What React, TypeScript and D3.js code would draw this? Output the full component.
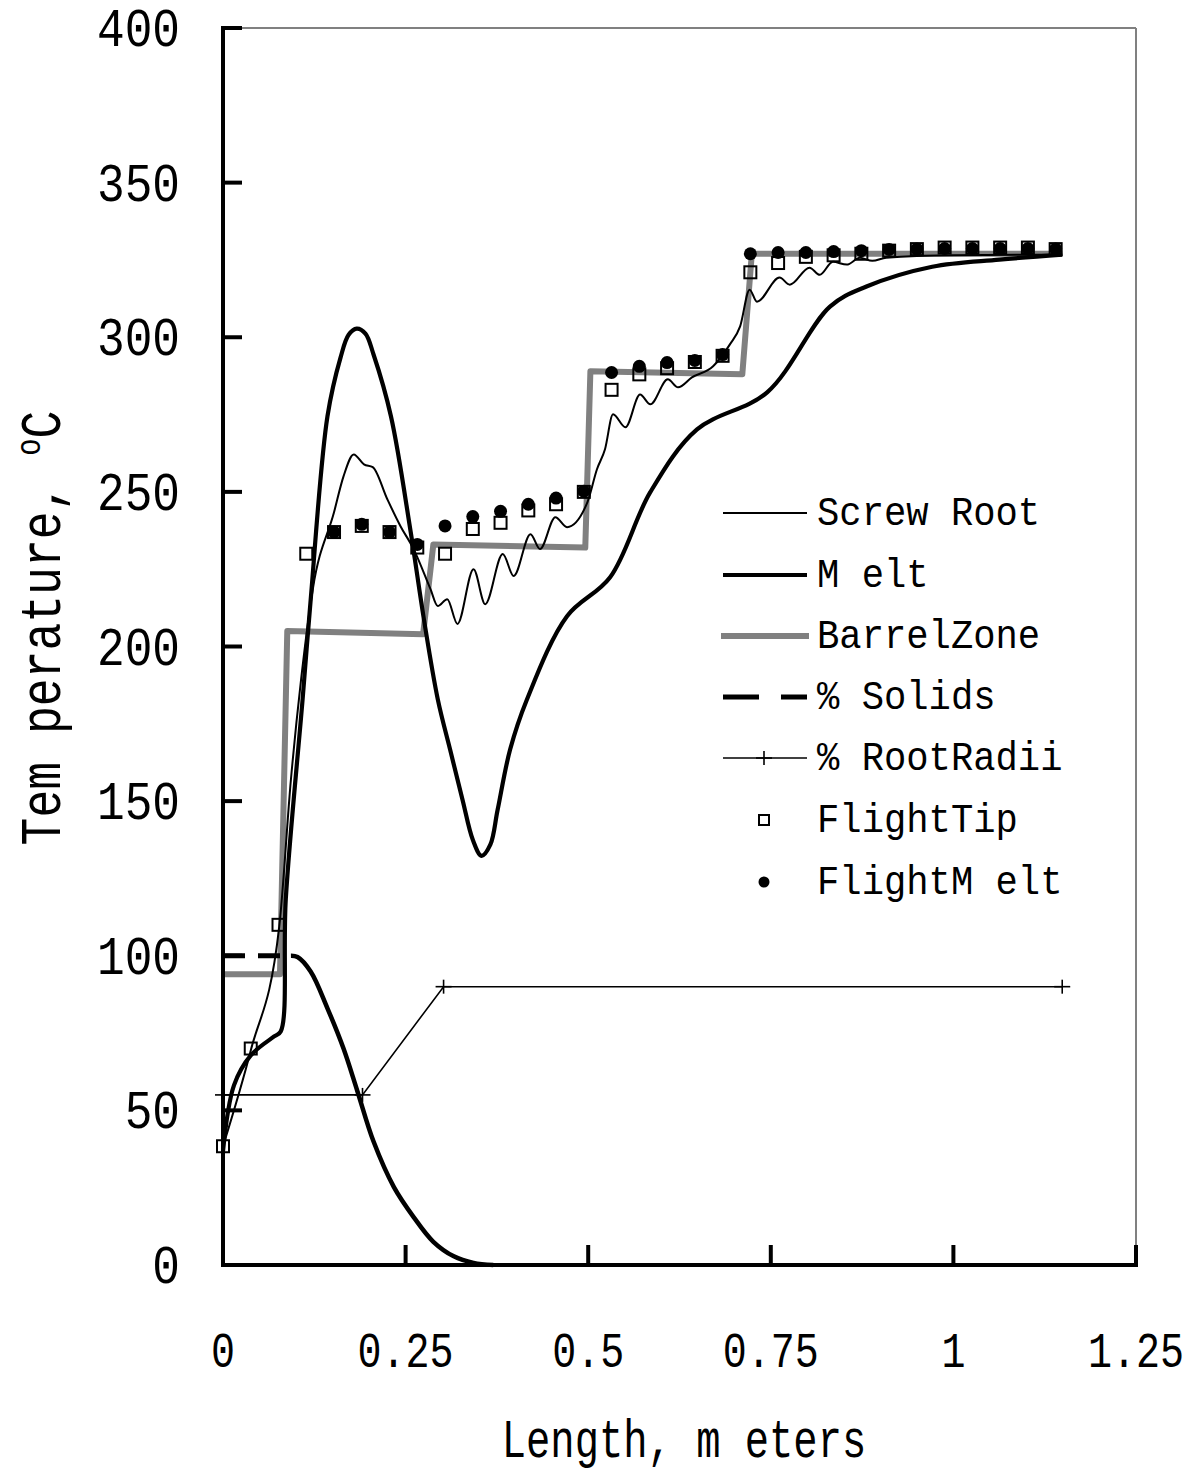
import React from "react";
import * as d3 from "d3";

type P = [number, number];

const X_TICKS = [0, 0.25, 0.5, 0.75, 1, 1.25];
const X_TICK_LABELS = ["0", "0.25", "0.5", "0.75", "1", "1.25"];
const Y_TICKS = [0, 50, 100, 150, 200, 250, 300, 350, 400];

const screwRoot: P[] = [
  [0, 38.4], [0.038, 69.4], [0.077, 109.4], [0.093, 157], [0.107, 189.5], [0.123, 218.6],
  [0.152, 243.4], [0.165, 255], [0.179, 262.1], [0.193, 258.9], [0.205, 258], [0.225, 247.6],
  [0.243, 238.9], [0.261, 231.5], [0.284, 218.6], [0.294, 213.1], [0.307, 215.3], [0.321, 207.3],
  [0.343, 225], [0.359, 213.7], [0.383, 229.9], [0.398, 222.8], [0.421, 236.3], [0.434, 231.5],
  [0.455, 241.8], [0.471, 238.6], [0.499, 246.7], [0.512, 257.3], [0.523, 263.8], [0.534, 275.1],
  [0.551, 270.9], [0.571, 281.5], [0.585, 278.3], [0.609, 286.4], [0.623, 283.8], [0.642, 287],
  [0.671, 290.6], [0.694, 297.7], [0.708, 303.5], [0.721, 315.4], [0.731, 311.5], [0.762, 319.3],
  [0.776, 317], [0.803, 322.5], [0.817, 320.2], [0.835, 324.4], [0.854, 323.5], [0.872, 325.7],
  [0.889, 324.7], [0.908, 325.7], [1.0, 326.5], [1.149, 326.7],
];

const melt: P[] = [
  [0, 36.8], [0.015, 58.1], [0.038, 67.8], [0.07, 73.9], [0.079, 75.5], [0.086, 118.5],
  [0.109, 183], [0.12, 215], [0.143, 274.4], [0.161, 293.5], [0.172, 300.8], [0.183, 302.8],
  [0.195, 301.2], [0.206, 294.5], [0.23, 274.4], [0.257, 237], [0.275, 208.9], [0.294, 183],
  [0.311, 166.6], [0.328, 150.4], [0.342, 137.5], [0.354, 132.3], [0.366, 135.9], [0.376, 147.2],
  [0.393, 166.6], [0.416, 182.8], [0.471, 209.8], [0.53, 222.4], [0.585, 249.9], [0.649, 270.2],
  [0.745, 282.2], [0.831, 309.9], [0.881, 316.4], [0.971, 322.8], [1.063, 325.1], [1.149, 326.7],
];

const barrelZone: P[] = [
  [0, 94], [0.078, 94], [0.088, 205], [0.274, 204], [0.288, 233], [0.496, 232],
  [0.503, 289], [0.711, 288], [0.724, 327], [1.149, 327],
];

const solids: P[] = [
  [0, 100], [0.093, 100], [0.102, 99.6], [0.12, 94.9], [0.143, 83], [0.165, 70],
  [0.184, 56.2], [0.206, 40], [0.234, 25.2], [0.261, 15.5], [0.288, 7.5], [0.316, 2.8],
  [0.343, 0.7], [0.37, 0],
];

const rootRadii: P[] = [[0, 55], [0.191, 55], [0.302, 90], [1.149, 90]];

const flightX = [
  0, 0.038, 0.076, 0.114, 0.152, 0.19, 0.228, 0.266, 0.304, 0.342, 0.38, 0.418, 0.456, 0.494,
  0.532, 0.57, 0.608, 0.646, 0.684, 0.722, 0.76, 0.798, 0.836, 0.874, 0.912, 0.95, 0.988,
  1.026, 1.064, 1.102, 1.14,
];
const flightTip = [
  38.4, 70, 110, 230, 237, 239, 237, 232, 230, 238, 240, 244, 246, 250,
  283, 288, 290, 292, 294, 321, 324, 326, 326.5, 327, 328, 328.5, 329,
  329, 329, 329, 328.5,
];
const flightMelt: (number | null)[] = [
  null, null, null, null, 237, 239.5, 237, 233, 239, 242, 243.7, 246, 248, 250.2,
  288.6, 290.6, 291.8, 292.5, 294.4, 327, 327.4, 327.4, 327.7, 328, 328.4, 328.5, 328.7,
  328.7, 328.7, 328.7, 328.5,
];

const legendLabels = [
  "Screw Root", "M elt", "BarrelZone", "%  Solids", "%  RootRadii", "FlightTip", "FlightM elt",
];

const FONT = "'Liberation Mono', 'Courier New', monospace";
const GRAY = "#808080";

export default function App() {
  const x = d3.scaleLinear().domain([0, 1.25]).range([223, 1136]);
  const y = d3.scaleLinear().domain([0, 400]).range([1265, 28]);

  const lin = d3.line<P>().x((d) => x(d[0])).y((d) => y(d[1]));
  const smooth = d3.line<P>().x((d) => x(d[0])).y((d) => y(d[1])).curve(d3.curveMonotoneX);
  const round = d3.line<P>().x((d) => x(d[0])).y((d) => y(d[1])).curve(d3.curveCatmullRom.alpha(0.5));

  const legendY = [513, 575, 636, 697, 758, 820, 882];
  const lx0 = 723, lx1 = 807, lsym = 764, ltext = 817;

  const plus = (cx: number, cy: number, k: string) => (
    <g key={k} stroke="#000" strokeWidth={1.6}>
      <line x1={cx - 8} x2={cx + 8} y1={cy} y2={cy} />
      <line x1={cx} x2={cx} y1={cy - 7} y2={cy + 7} />
    </g>
  );

  return (
    <svg
      width={1193}
      height={1473}
      style={{ position: "absolute", left: 0, top: 0, background: "#fff" }}
      fontFamily={FONT}
    >
      <rect x={0} y={0} width={1193} height={1473} fill="#fff" />
      {/* plot border (top/right) */}
      <line x1={223} x2={1136} y1={28} y2={28} stroke={GRAY} strokeWidth={2} />
      <line x1={1136} x2={1136} y1={28} y2={1265} stroke={GRAY} strokeWidth={2} />

      {/* series lines */}
      <path d={lin(barrelZone) || ""} fill="none" stroke={GRAY} strokeWidth={6} strokeLinejoin="round" />
      <path d={lin(solids.slice(0, 2)) || ""} fill="none" stroke="#000" strokeWidth={5} strokeDasharray="22,13" />
      <path d={round(solids.slice(1)) || ""} fill="none" stroke="#000" strokeWidth={4.5} />
      <path d={lin(rootRadii) || ""} fill="none" stroke="#000" strokeWidth={1.6} />
      {rootRadii.map((d, i) => plus(x(d[0]), y(d[1]), "rr" + i))}
      <path d={smooth(screwRoot) || ""} fill="none" stroke="#000" strokeWidth={2} />
      <path d={round(melt) || ""} fill="none" stroke="#000" strokeWidth={4.2} />

      {/* markers */}
      {flightX.map((fx, i) => (
        <rect
          key={"ft" + i}
          x={x(fx) - 6}
          y={y(flightTip[i]) - 6}
          width={12}
          height={12}
          fill="none"
          stroke="#000"
          strokeWidth={2}
        />
      ))}
      {flightX.map((fx, i) =>
        flightMelt[i] == null ? null : (
          <circle key={"fm" + i} cx={x(fx)} cy={y(flightMelt[i] as number)} r={6.5} fill="#000" />
        )
      )}

      {/* axes */}
      <line x1={223} x2={223} y1={26} y2={1267} stroke="#000" strokeWidth={4} />
      <line x1={221} x2={1138} y1={1265} y2={1265} stroke="#000" strokeWidth={4} />
      {Y_TICKS.map((t) => (
        <g key={"yt" + t}>
          <line x1={223} x2={242} y1={y(t)} y2={y(t)} stroke="#000" strokeWidth={4} />
          <text
            transform={`translate(180,${y(t) + 4}) scale(0.87,1)`}
            textAnchor="end"
            dominantBaseline="middle"
            fontSize={53}
          >
            {t}
          </text>
        </g>
      ))}
      {X_TICKS.map((t, i) => (
        <g key={"xt" + t}>
          <line x1={x(t)} x2={x(t)} y1={1265} y2={1245} stroke="#000" strokeWidth={4} />
          <text
            transform={`translate(${x(t)},1367) scale(0.8,1)`}
            textAnchor="middle"
            fontSize={50}
          >
            {X_TICK_LABELS[i]}
          </text>
        </g>
      ))}

      {/* axis titles */}
      <text transform="translate(684,1457) scale(0.75,1)" textAnchor="middle" fontSize={54}>
        Length, m eters
      </text>
      <text transform="translate(60,628) rotate(-90) scale(0.8,1)" textAnchor="middle" fontSize={58}>
        Tem perature,{" "}
        <tspan fontSize={36} dy={-20}>o</tspan>
        <tspan dy={20}>C</tspan>
      </text>

      {/* legend */}
      {legendLabels.map((lab, i) => {
        const cy = legendY[i];
        let sym: React.ReactNode = null;
        if (i === 0) sym = <line x1={lx0} x2={lx1} y1={cy} y2={cy} stroke="#000" strokeWidth={2} />;
        if (i === 1) sym = <line x1={lx0} x2={lx1} y1={cy} y2={cy} stroke="#000" strokeWidth={4.2} />;
        if (i === 2) sym = <line x1={lx0 - 2} x2={lx1 + 2} y1={cy} y2={cy} stroke={GRAY} strokeWidth={6} />;
        if (i === 3)
          sym = <line x1={lx0} x2={lx1} y1={cy} y2={cy} stroke="#000" strokeWidth={5} strokeDasharray="36,22" />;
        if (i === 4)
          sym = (
            <g>
              <line x1={lx0} x2={lx1} y1={cy} y2={cy} stroke="#000" strokeWidth={1.6} />
              {plus(lsym, cy, "lp")}
            </g>
          );
        if (i === 5)
          sym = <rect x={lsym - 5} y={cy - 5} width={10} height={10} fill="none" stroke="#000" strokeWidth={2} />;
        if (i === 6) sym = <circle cx={lsym} cy={cy} r={5.5} fill="#000" />;
        return (
          <g key={"lg" + i}>
            {sym}
            <text transform={`translate(${ltext},${cy + 12}) scale(0.93,1)`} fontSize={40}>
              {lab}
            </text>
          </g>
        );
      })}
    </svg>
  );
}
